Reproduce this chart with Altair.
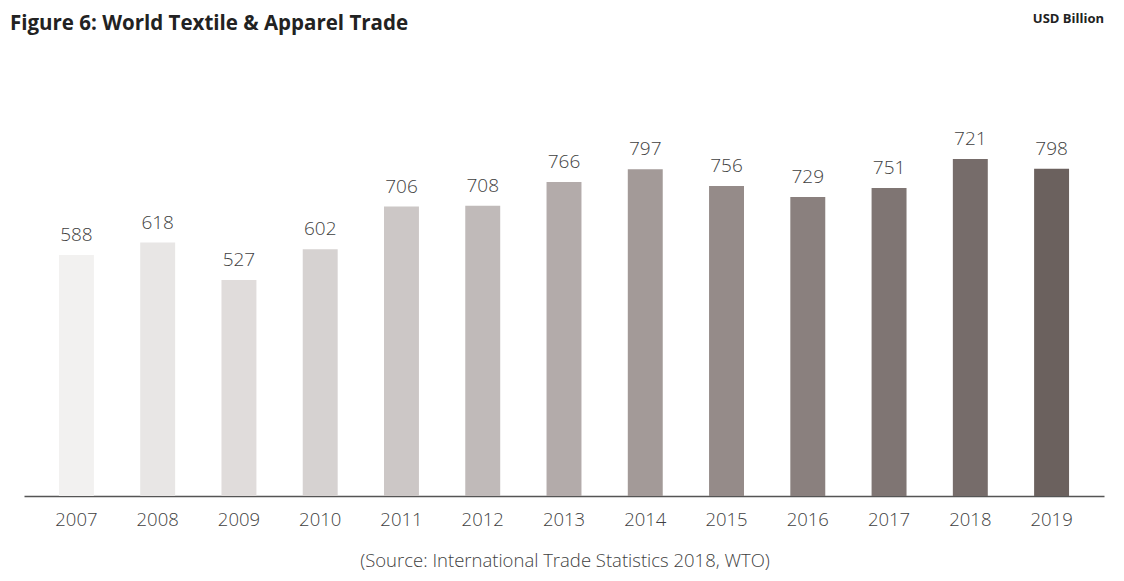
import altair as alt
import pandas as pd

years = ["2007", "2008", "2009", "2010", "2011", "2012", "2013",
         "2014", "2015", "2016", "2017", "2018", "2019"]
# bar heights as drawn in the picture
bar_values = [588, 618, 527, 602, 706, 708, 766, 797, 756, 729, 751, 822, 798]
# value labels printed above the bars
labels = ["588", "618", "527", "602", "706", "708", "766",
          "797", "756", "729", "751", "721", "798"]
colors = ["#f2f1f0", "#e8e6e5", "#e0dcdb", "#d6d2d1", "#ccc7c6", "#c0bab9",
          "#b3abaa", "#a39a98", "#958b89", "#8a807e", "#7f7573", "#766c6a",
          "#6b615e"]

df = pd.DataFrame({"year": years, "value": bar_values, "label": labels})

FONT = "Open Sans"
W, H = 1080, 410

x = alt.X("year:N", sort=years,
          scale=alt.Scale(paddingInner=0.57, paddingOuter=0.43),
          axis=alt.Axis(title=None, labelAngle=0, ticks=False, domain=True,
                        domainColor="#555555", domainWidth=1.5,
                        labelFont=FONT, labelFontSize=18.5, labelFontWeight=300,
                        labelColor="#3f3f3f",
                        labelPadding=14, grid=False))
y = alt.Y("value:Q", scale=alt.Scale(domain=[0, 1000]), axis=None)

bars = alt.Chart(df).mark_bar().encode(
    x=x, y=y,
    color=alt.Color("year:N", sort=years,
                    scale=alt.Scale(domain=years, range=colors), legend=None),
)

text = alt.Chart(df).mark_text(
    font=FONT, fontSize=19, fontWeight=300, color="#3f3f3f",
    baseline="alphabetic", dy=-14
).encode(x=alt.X("year:N", sort=years), y="value:Q", text="label:N")

title_df = pd.DataFrame({"t": ["Figure 6: World Textile & Apparel Trade"]})
title = alt.Chart(title_df).mark_text(
    font=FONT, fontSize=20.5, fontWeight="bold", color="#222222",
    align="left", baseline="alphabetic"
).encode(x=alt.value(-14), y=alt.value(-56), text="t:N")

unit_df = pd.DataFrame({"t": ["USD Billion"]})
unit = alt.Chart(unit_df).mark_text(
    font=FONT, fontSize=13, fontWeight="bold", color="#222222",
    align="right", baseline="alphabetic"
).encode(x=alt.value(W), y=alt.value(-63), text="t:N")

src_df = pd.DataFrame({"t": ["(Source: International Trade Statistics 2018, WTO)"]})
src = alt.Chart(src_df).mark_text(
    font=FONT, fontSize=18.5, fontWeight=300, color="#3f3f3f",
    align="center", baseline="alphabetic"
).encode(x=alt.value(541), y=alt.value(481), text="t:N")

chart = alt.layer(bars, text, title, unit, src).properties(
    width=W, height=H,
    autosize=alt.AutoSizeParams(type="none"),
    padding={"left": 16, "top": 78, "right": 4, "bottom": 77},
    background="white",
).configure_view(stroke=None, strokeWidth=0)

chart.save("out.html", embed_options={"renderer": "svg", "actions": False})
